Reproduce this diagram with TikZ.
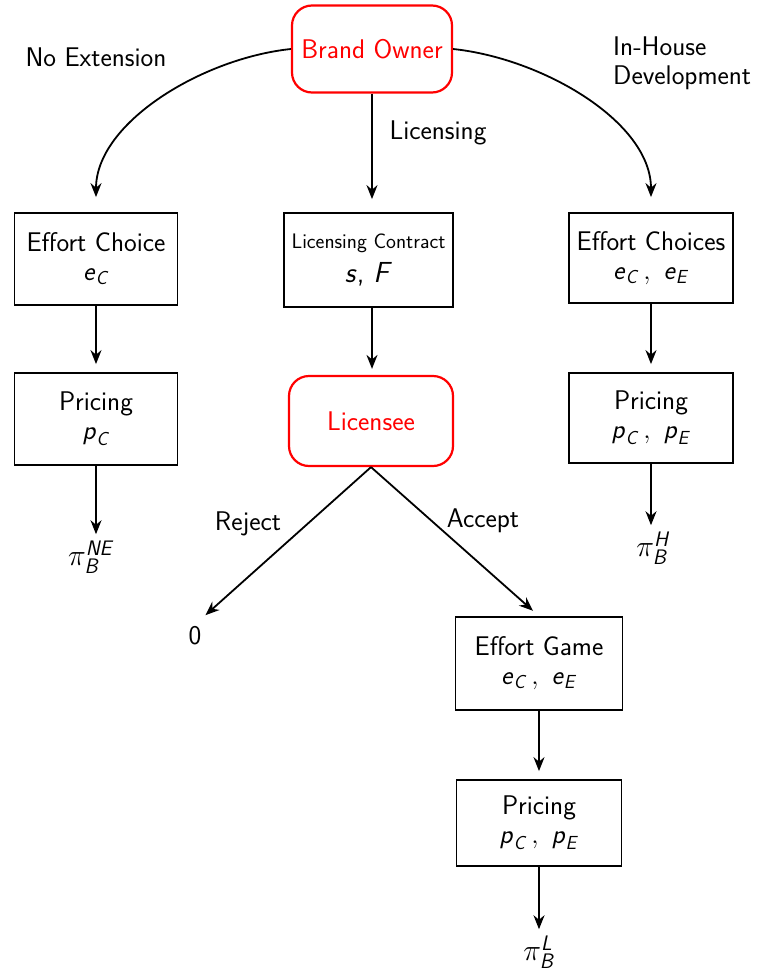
\RequirePackage{fix-cm}
\documentclass[tikz,border=0pt]{standalone}
\usepackage{amsmath}
\usepackage{fontspec}
\usetikzlibrary{arrows.meta}
\newcommand{\sv}[1]{\textsf{\textit{#1}}}
\begin{document}
\begin{tikzpicture}[x=1pt,y=-1pt,
  every node/.style={font=\sffamily\fontsize{27}{31}\selectfont},
  box/.style={draw, line width=1.8pt, align=center, inner sep=0pt},
  player/.style={draw=red, text=red, line width=2.2pt, rounded corners=20pt, inner sep=0pt},
  arr/.style={line width=1.8pt, -{Stealth[length=14pt,width=11pt]}, shorten >=8pt},
  lbl/.style={inner sep=2pt},
  pay/.style={inner sep=2pt, font=\sffamily\fontsize{30}{34}\selectfont}]
\useasboundingbox (0,0) rectangle (765,977);

% players
\node[player, minimum width=160pt, minimum height=87pt] (bo) at (372,49) {Brand Owner};
\node[player, minimum width=164pt, minimum height=90pt] (lic) at (371,421) {Licensee};

% boxes
\node[box, minimum width=163pt, minimum height=92pt] (ec) at (96,259) {Effort Choice\\[-2pt]$\sv{e}_{\sv{C}}$};
\node[box, minimum width=169pt, minimum height=94pt] (lc) at (368.5,260) {{\fontsize{21}{25}\selectfont Licensing Contract}\\[3pt]{\fontsize{29}{31}\selectfont$\sv{s}$, $\sv{F}$}};
\node[box, minimum width=164pt, minimum height=90pt] (ecs) at (651,258) {Effort Choices\\[-2pt]$\sv{e}_{\sv{C}}\,,\ \sv{e}_{\sv{E}}$};
\node[box, minimum width=163pt, minimum height=92pt] (pl) at (96,419) {Pricing\\[-2pt]$\sv{p}_{\sv{C}}$};
\node[box, minimum width=164pt, minimum height=90pt] (pr) at (651,418) {Pricing\\[-2pt]$\sv{p}_{\sv{C}}\,,\ \sv{p}_{\sv{E}}$};
\node[box, minimum width=167pt, minimum height=93pt] (eg) at (539,663.5) {Effort Game\\[-2pt]$\sv{e}_{\sv{C}}\,,\ \sv{e}_{\sv{E}}$};
\node[box, minimum width=165pt, minimum height=86pt] (pb) at (539,823) {Pricing\\[-2pt]$\sv{p}_{\sv{C}}\,,\ \sv{p}_{\sv{E}}$};

% payoffs
\node[pay] (pine) at (91,557) {$\pi_{\sv{B}}^{\sv{NE}}$};
\node[pay] (pih) at (653,548) {$\pi_{\sv{B}}^{\sv{H}}$};
\node[pay] (pil) at (539,952) {$\pi_{\sv{B}}^{\sv{L}}$};
\node[lbl] (zero) at (195,636) {0};

% labels
\node[lbl] (lne) at (96,57) {No Extension};
\node[lbl, anchor=west, align=left] (lih) at (611,63) {In-House\\[-2pt]Development};
\node[lbl] (llic) at (438,133) {Licensing};
\node[lbl] (lrej) at (248,524) {Reject};
\node[lbl] (lacc) at (483,521) {Accept};

% connectors
\draw[arr, shorten >=15pt] (bo.west) to[out=186,in=90,looseness=0.9] (ec.north);
\draw[arr, shorten >=13pt] (bo.south) -- (bo.south |- lc.north);
\draw[arr, shorten >=15pt] (bo.east) to[out=-6,in=90,looseness=0.9] (ecs.north);
\draw[arr] (ec) -- (pl);
\draw[arr, shorten >=6pt] (lc.south -| bo.south) -- (bo.south |- lic.north);
\draw[arr] (ecs) -- (pr);
\draw[arr, shorten >=4pt] (pl) -- (pl |- pine.north);
\draw[arr, shorten >=4pt] (pr) -- (pr |- pih.north);
\draw[arr, shorten >=14pt] (lic.south) -- (zero.north);
\draw[arr] (lic.south) -- (eg.north);
\draw[arr] (eg) -- (pb);
\draw[arr, shorten >=4pt] (pb) -- (pb |- pil.north);
\end{tikzpicture}
\end{document}
